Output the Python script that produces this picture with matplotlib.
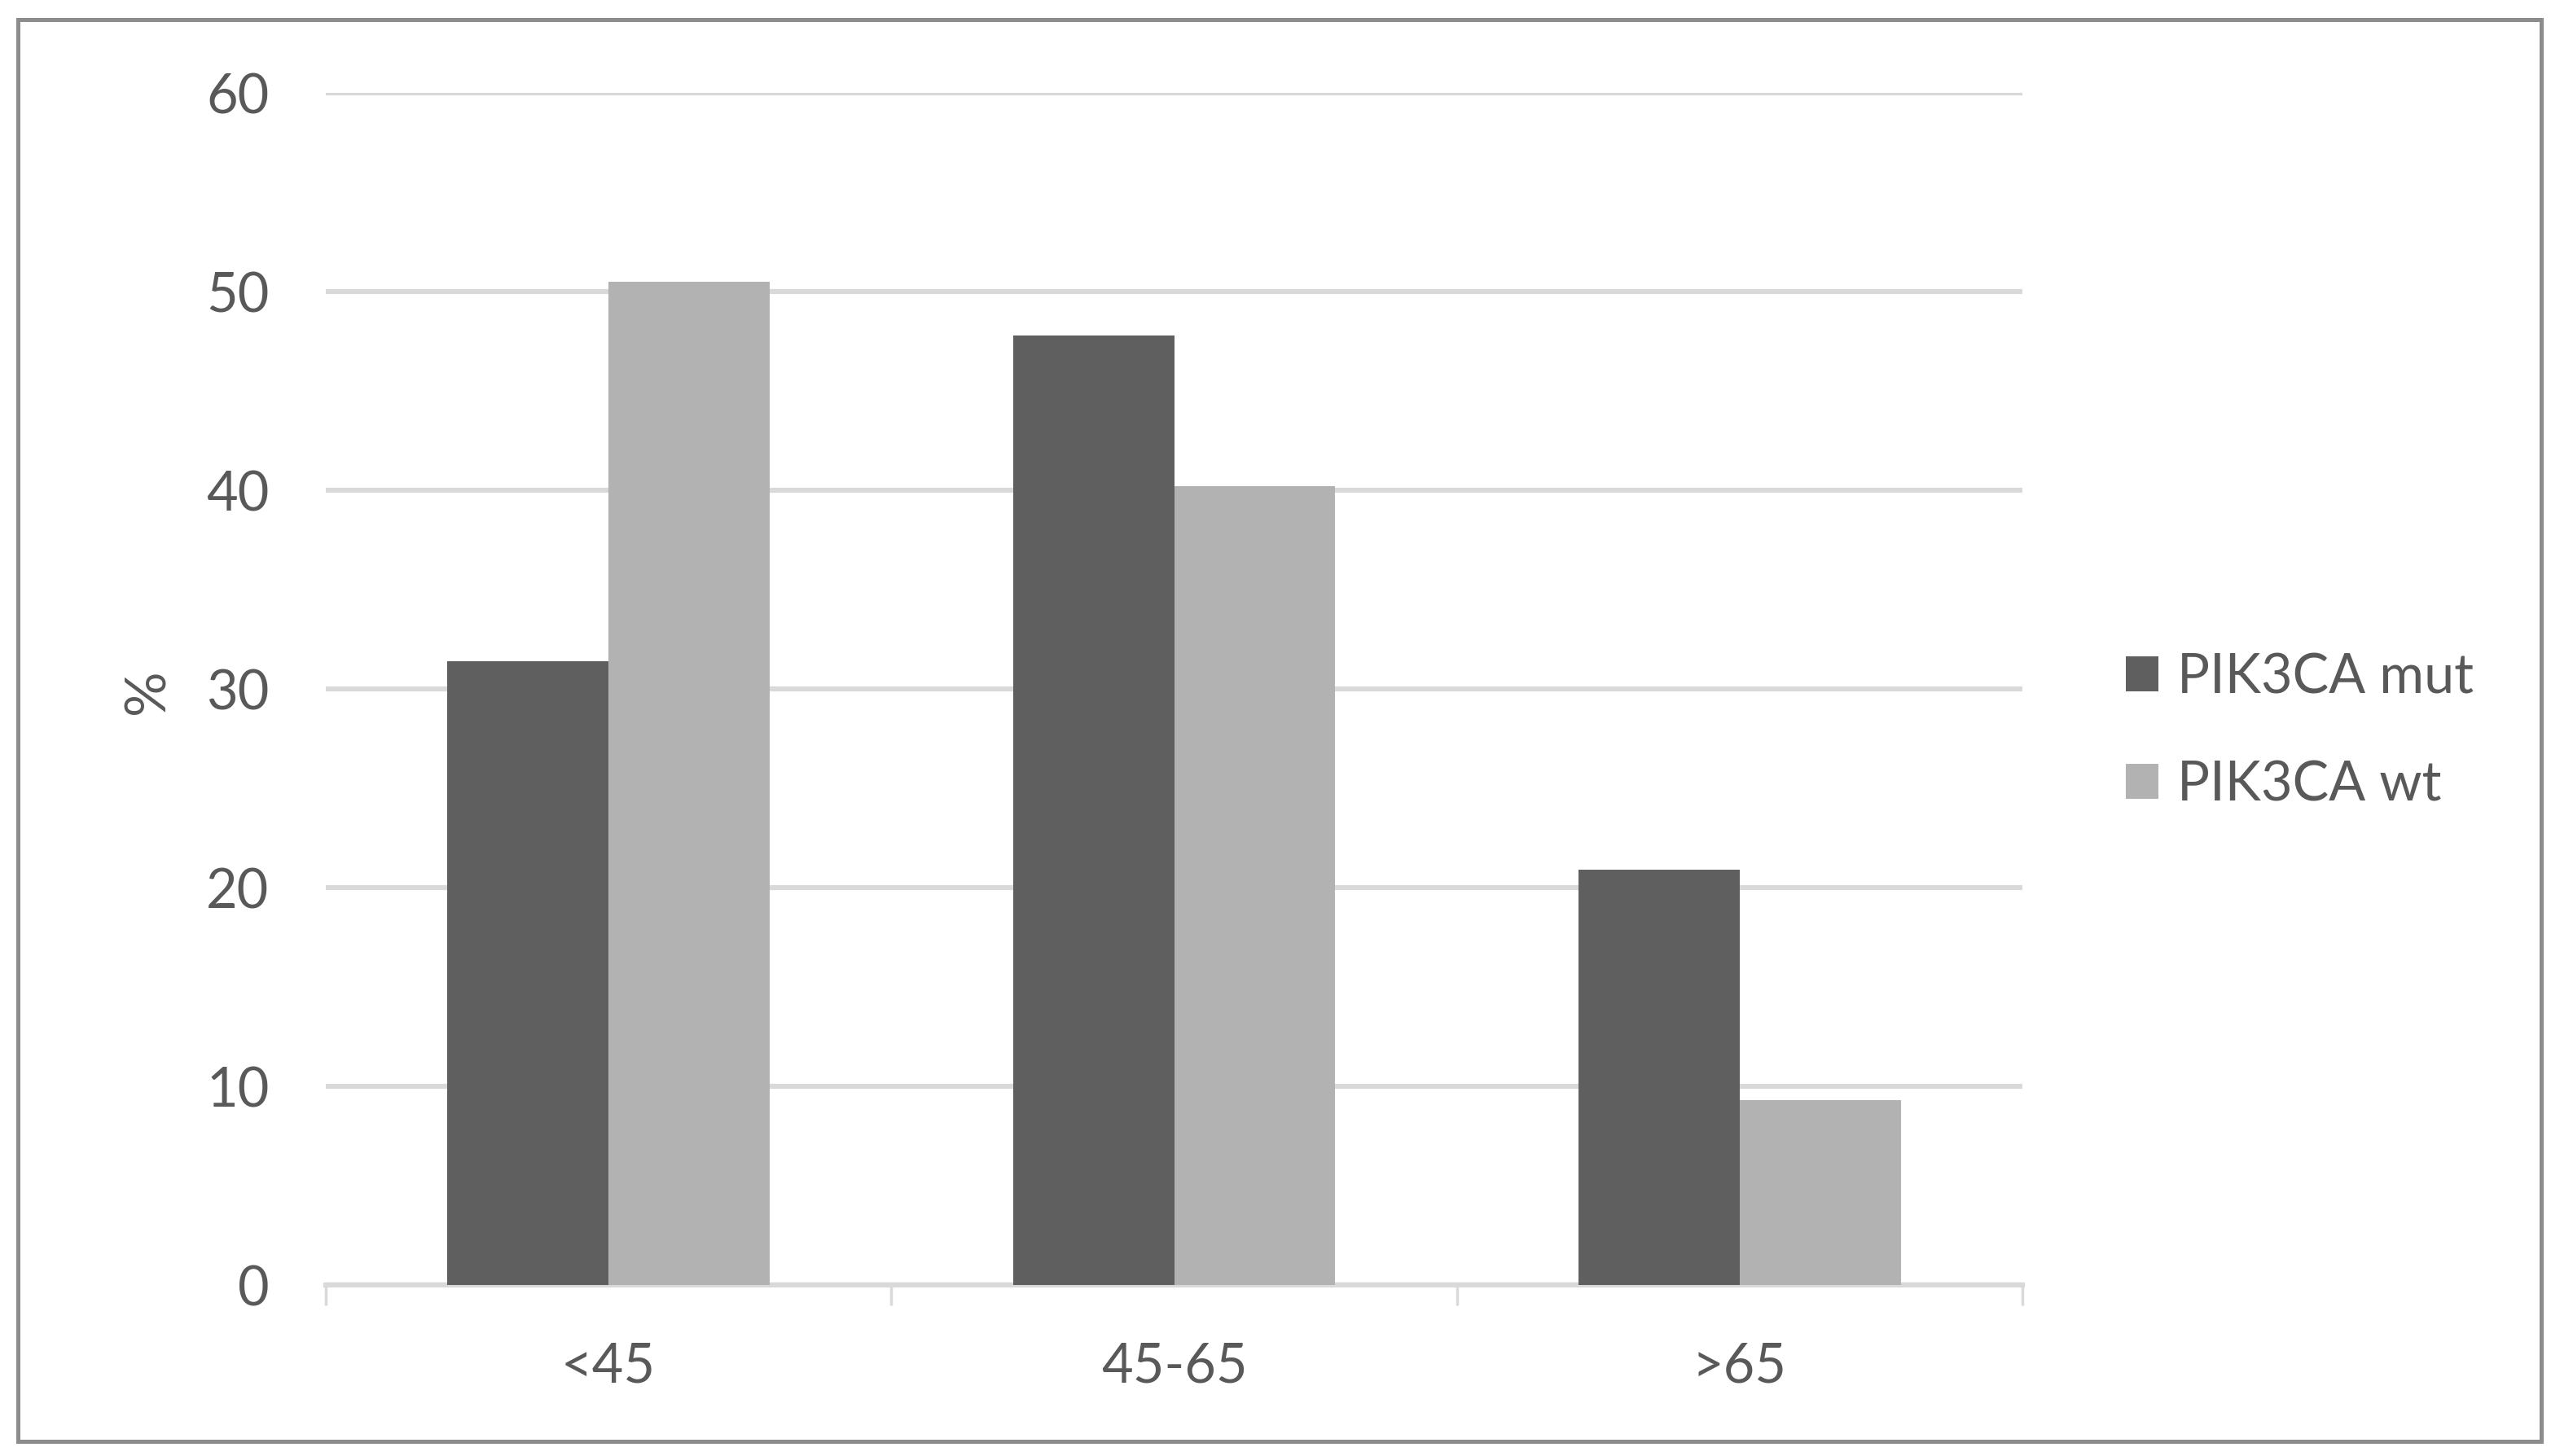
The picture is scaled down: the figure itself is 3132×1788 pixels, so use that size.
import numpy as np
import matplotlib
matplotlib.use('Agg')
import matplotlib.pyplot as plt
from matplotlib.patches import Rectangle


age_groups = ['<45', '45-65', '>65']
mut_values = [31.4, 47.8, 20.9]
wt_values = [50.5, 40.2, 9.3]
series_names = ['PIK3CA mut', 'PIK3CA wt']
y_ticks = [0, 10, 20, 30, 40, 50, 60]

text_col = '#595959'
grid_col = '#d9d9d9'
mut_col = '#5f5f5f'
wt_col = '#b2b2b2'

plt.rcParams['font.family'] = ['Lato', 'DejaVu Sans']

W, H = 3132, 1788
fig = plt.figure(figsize=(W / 100, H / 100), dpi=100)

# plot area in pixels: left 400, right 2483, top 114, bottom 1578
ax = fig.add_axes([400 / W, (H - 1578) / H, (2483 - 400) / W, (1578 - 114) / H])

x = np.arange(len(age_groups))
bw = 0.285
ax.bar(x - bw / 2, mut_values, bw, color=mut_col, label=series_names[0], zorder=3)
ax.bar(x + bw / 2, wt_values, bw, color=wt_col, label=series_names[1], zorder=3)

ax.set_xlim(-0.5, len(age_groups) - 0.5)
ax.set_ylim(0, 60)
ax.set_yticks(y_ticks)
ax.set_xticks(x)
ax.set_xticklabels(age_groups)
ax.set_xticks(np.arange(len(age_groups) + 1) - 0.5, minor=True)

ax.yaxis.grid(True, color=grid_col, linewidth=4.5, zorder=0)
ax.set_axisbelow(True)
for s in ['top', 'right', 'left']:
    ax.spines[s].set_visible(False)
ax.spines['bottom'].set_color(grid_col)
ax.spines['bottom'].set_linewidth(4.5)

ax.tick_params(axis='y', length=0, pad=50, labelsize=48, labelcolor=text_col)
ax.tick_params(axis='x', which='major', length=0, pad=50, labelsize=48, labelcolor=text_col)
ax.tick_params(axis='x', which='minor', length=18, width=2.5, color=grid_col, direction='out')

ax.set_ylabel('%', fontsize=50, color=text_col, va='center')
ax.yaxis.set_label_coords((182 - 400) / (2483 - 400), (1578 - 849) / (1578 - 114))

ax.legend(loc='center left', bbox_to_anchor=(2610 / W, 1 - 898 / H), bbox_transform=fig.transFigure,
          frameon=False, fontsize=48, labelcolor=text_col, handlelength=0.6, handleheight=0.63,
          handletextpad=0.35, labelspacing=1.05, borderpad=0, borderaxespad=0)

# outer border of the chart
fig.patches.append(Rectangle((22 / W, (H - 1770) / H), (3120 - 22) / W, (1770 - 24) / H,
                             transform=fig.transFigure, fill=False, edgecolor='#8c8c8c', linewidth=3.6))

plt.savefig('out.png', dpi=100)
